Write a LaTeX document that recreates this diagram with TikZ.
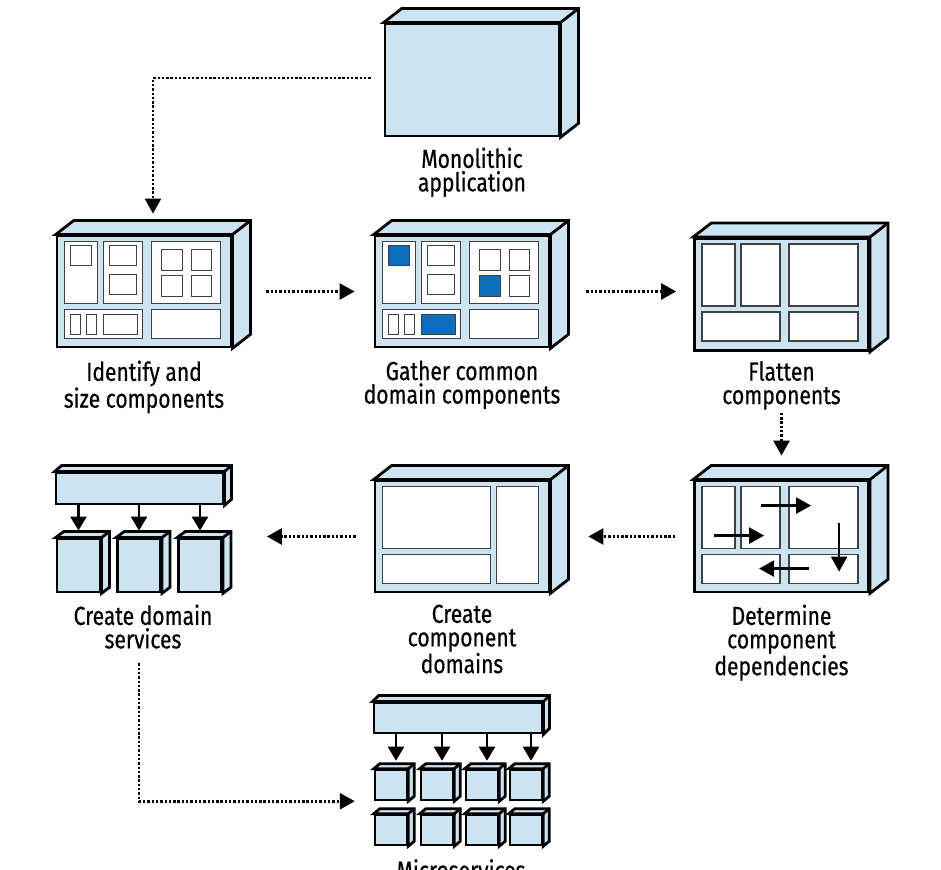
\documentclass[tikz,border=0pt]{standalone}
\usepackage{fontspec}
\setmainfont{Fira Sans}[FakeStretch=0.81, FakeBold=0.5]
\usetikzlibrary{positioning,arrows.meta}

\definecolor{slabblue}{HTML}{CCE3F1}
\definecolor{pickblue}{HTML}{0B6DBE}

\tikzset{
  slab/.style={draw, line width=2.8pt, fill=slabblue, inner sep=0pt},
  cell/.style={draw=black!75, line width=1.4pt, fill=white},
  picked/.style={cell, fill=pickblue},
  flow/.style={line width=2.7pt, dash pattern=on 2.4pt off 1.9pt,
    -{Triangle[length=15pt,width=16pt]}},
  dep/.style={line width=2.3pt, -{Triangle[length=15pt,width=16pt]}},
  drop/.style={line width=2.3pt, -{Triangle[length=14pt,width=16pt]}},
  caption/.style={align=center, inner sep=0pt, font=\fontsize{26}{23.5}\selectfont},
}

% node = front face; this adds the top and the side
\newcommand\slabdepth[3]{%
  \draw[line width=2.8pt, fill=slabblue]
    (#1.north west) -- ++(#2,#3) -- ([shift={(#2,#3)}]#1.north east)
    -- ([shift={(#2,#3)}]#1.south east) -- (#1.south east)
    -- (#1.north east) -- cycle;
  \draw[line width=2.8pt] (#1.north east) -- ++(#2,#3);
}

% the five parts, relative to the front's north west corner
\newcommand\fivecells{%
  \draw[cell] (9,-7) rectangle (42,-69);
  \draw[cell] (48,-7) rectangle (87,-69);
  \draw[cell] (96,-7) rectangle (165,-69);
  \draw[cell] (9,-75) rectangle (87,-104);
  \draw[cell] (96,-75) rectangle (165,-104);
}

% small pieces inside the parts; #1 = look of the common ones
\newcommand\pieces[1]{%
  \draw[#1] (15,-11) rectangle (36,-31);
  \draw[cell] (54,-11) rectangle (81,-31);
  \draw[cell] (54,-40) rectangle (81,-60);
  \draw[cell] (106,-15) rectangle (127,-36);
  \draw[cell] (136,-15) rectangle (156,-36);
  \draw[#1] (106,-41) rectangle (127,-62);
  \draw[cell] (136,-41) rectangle (156,-62);
  \draw[cell] (15,-80) rectangle (25,-100);
  \draw[cell] (31,-80) rectangle (41,-100);
  \draw[#1] (48,-80) rectangle (82,-100);
}

\begin{document}
\begin{tikzpicture}[x=1pt, y=1pt]
  \useasboundingbox (0,0) rectangle (941,869);

  % Monolith
  \node[slab, minimum width=174pt, minimum height=112pt] (mono) at (472,789) {};
  \slabdepth{mono}{18}{14}
  \node[caption, below=10pt of mono] (monolbl) {Monolithic\\application};

  % First row
  \node[slab, minimum width=174pt, minimum height=111pt] (ident) at (144,577.5) {};
  \slabdepth{ident}{18}{14}
  \begin{scope}[shift={(ident.north west)}]
    \fivecells
    \pieces{cell}
  \end{scope}
  \node[caption, below=12pt of ident] (identlbl) {Identify and\\size components};

  \node[slab, minimum width=174pt, minimum height=111pt] (gather) at (462,577.5) {};
  \slabdepth{gather}{18}{14}
  \begin{scope}[shift={(gather.north west)}]
    \fivecells
    \pieces{picked}
  \end{scope}
  \node[caption, below=12pt of gather] (gatherlbl) {Gather common\\domain components};

  \node[slab, minimum width=174pt, minimum height=112pt] (flat) at (781.5,574.5) {};
  \slabdepth{flat}{18}{14}
  \begin{scope}[shift={(flat.north west)}]
    \fivecells
  \end{scope}
  \node[caption, below=9pt of flat] (flatlbl) {Flatten\\components};

  % Second row
  \node[slab, minimum width=174pt, minimum height=111pt] (deps) at (781.5,332.5) {};
  \slabdepth{deps}{18}{14}
  \begin{scope}[shift={(deps.north west)}]
    \fivecells
    \draw[dep] (21,-56) -- (71,-56);
    \draw[dep] (68,-26) -- (118,-26);
    \draw[dep] (146,-43) -- (146,-92);
    \draw[dep] (116,-89) -- (66,-89);
  \end{scope}
  \node[caption, below=11pt of deps] (depslbl) {Determine\\component\\dependencies};

  \node[slab, minimum width=174pt, minimum height=111pt] (domains) at (462,332.5) {};
  \slabdepth{domains}{18}{14}
  \begin{scope}[shift={(domains.north west)}]
    \draw[cell] (9,-7) rectangle (117,-69);
    \draw[cell] (9,-75) rectangle (117,-104);
    \draw[cell] (123,-7) rectangle (165,-104);
  \end{scope}
  \node[caption, below=11pt of domains] (domainslbl) {Create\\component\\domains};

  % Domain services
  \node[slab, minimum width=167pt, minimum height=31pt] (svcbar) at (139.5,380.5) {};
  \slabdepth{svcbar}{7}{6}
  \foreach \i/\x in {1/78.5, 2/139, 3/200} {
    \node[slab, minimum width=43pt, minimum height=53pt] (svc\i) at (\x,303.5) {};
    \slabdepth{svc\i}{8}{6}
  }
  \foreach \c in {svc1,svc2,svc3}
    \draw[drop] (\c.north |- svcbar.south) -- ([yshift=7pt]\c.north);
  \node[caption, below=11pt of svc2, xshift=4pt] (svclbl) {Create domain\\services};

  % Microservices
  \node[slab, minimum width=168pt, minimum height=30pt] (msbar) at (458,151) {};
  \slabdepth{msbar}{6}{6}
  \foreach \i/\x/\y in {1/391/84, 2/437/84, 3/482/84, 4/526/84,
                        5/391/39, 6/437/39, 7/482/39, 8/526/39} {
    \node[slab, line width=2.5pt, minimum width=32pt, minimum height=30pt] (ms\i) at (\x,\y) {};
    \slabdepth{ms\i}{6}{5}
  }
  \foreach \c in {ms1,ms2,ms3,ms4}
    \draw[drop] ([xshift=5pt]\c.north |- msbar.south) -- ([xshift=5pt,yshift=8pt]\c.north);
  \node[caption, anchor=north] (mslbl) at (461,10) {Microservices};

  % Flow between the steps
  \draw[flow, shorten <=13pt, shorten >=21pt] ([yshift=2pt]mono.west) -| ([xshift=9pt]ident.north);
  \draw[flow, shorten <=34pt, shorten >=19pt] (ident) -- (gather);
  \draw[flow, shorten <=36pt, shorten >=17pt] (gather.east) -- (gather.east -| flat.west);
  \draw[flow, shorten <=61pt, shorten >=24pt] (flat) -- (deps);
  \draw[flow, shorten <=18pt, shorten >=38pt] (deps) -- (domains);
  \draw[flow, shorten <=18pt, shorten >=44pt] (domains.west) -- (domains.west -| svc3.east);
  \draw[flow, shorten <=70pt, shorten >=19pt] (svc2.south) |- (ms1.south west);
\end{tikzpicture}
\end{document}
